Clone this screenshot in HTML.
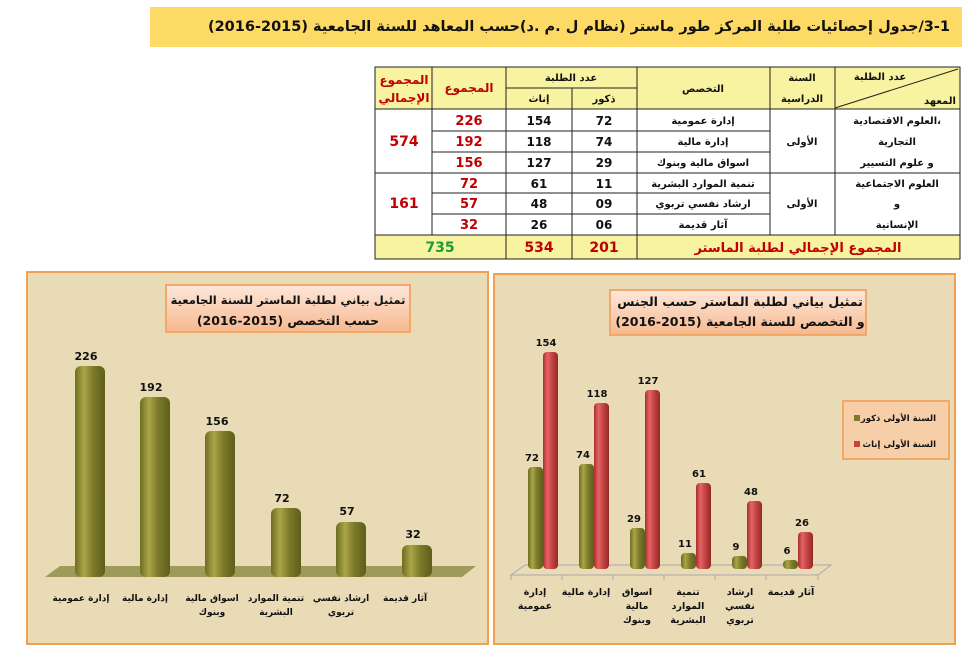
<!DOCTYPE html>
<html><head><meta charset="utf-8"><style>
body{margin:0;background:#fff;width:962px;height:648px;overflow:hidden;position:relative}
svg text{font-family:"DejaVu Sans","Liberation Sans",sans-serif;font-weight:bold}
#t{position:absolute;left:150px;top:7px;width:800px;height:40px;padding-right:8px;text-align:right;direction:rtl;font-family:"DejaVu Sans",sans-serif;font-weight:bold;font-size:14.5px;line-height:40px;color:#111;white-space:nowrap;overflow:hidden}
</style></head><body>
<svg width="962" height="648" viewBox="0 0 962 648" xmlns="http://www.w3.org/2000/svg" style="position:absolute;left:0;top:0">
<defs>
<linearGradient id="og" x1="0" x2="1" y1="0" y2="0"><stop offset="0" stop-color="#6e6e22"/><stop offset=".3" stop-color="#a9a548"/><stop offset=".6" stop-color="#7d7a2a"/><stop offset="1" stop-color="#5e5e1c"/></linearGradient>
<linearGradient id="rg" x1="0" x2="1" y1="0" y2="0"><stop offset="0" stop-color="#a92e2e"/><stop offset=".3" stop-color="#e46464"/><stop offset=".6" stop-color="#c44444"/><stop offset="1" stop-color="#952828"/></linearGradient>
<linearGradient id="tb" x1="0" x2="0" y1="0" y2="1"><stop offset="0" stop-color="#fde8dc"/><stop offset="1" stop-color="#f6b98e"/></linearGradient>
</defs>
<rect x="150" y="7" width="812" height="40" fill="#fdd965"/>

<!-- table -->
<g stroke="#222" stroke-width="1">
<rect x="375" y="67" width="585" height="192" fill="#fff"/>
<rect x="375" y="67" width="585" height="42" fill="#f7f3a0"/>
<rect x="375" y="235" width="585" height="24" fill="#f7f3a0"/>
<line x1="432" y1="67" x2="432" y2="235"/>
<line x1="506" y1="67" x2="506" y2="259"/>
<line x1="572" y1="88" x2="572" y2="259"/>
<line x1="637" y1="67" x2="637" y2="259"/>
<line x1="770" y1="67" x2="770" y2="235"/>
<line x1="835" y1="67" x2="835" y2="235"/>
<line x1="506" y1="88" x2="637" y2="88"/>
<line x1="375" y1="109" x2="960" y2="109"/>
<line x1="432" y1="131" x2="770" y2="131"/>
<line x1="432" y1="152" x2="770" y2="152"/>
<line x1="375" y1="173" x2="960" y2="173"/>
<line x1="432" y1="193" x2="770" y2="193"/>
<line x1="432" y1="214" x2="770" y2="214"/>
<line x1="835" y1="108" x2="958" y2="69"/>
</g>
<g font-size="10" text-anchor="middle" fill="#111">
<text x="404" y="84" fill="#c00000" font-size="12">المجموع</text>
<text x="404" y="102" fill="#c00000" font-size="12">الإجمالي</text>
<text x="469" y="92" fill="#c00000" font-size="12">المجموع</text>
<text x="571" y="81">عدد الطلبة</text>
<text x="539" y="102">إناث</text>
<text x="604" y="102">ذكور</text>
<text x="703" y="92">التخصص</text>
<text x="802" y="81">السنة</text>
<text x="802" y="102">الدراسية</text>
<text x="880" y="80">عدد الطلبة</text>
<text x="940" y="104">المعهد</text>
<text x="703" y="124">إدارة عمومية</text>
<text x="703" y="145">إدارة مالية</text>
<text x="703" y="166">اسواق مالية وبنوك</text>
<text x="703" y="187">تنمية الموارد البشرية</text>
<text x="703" y="207">ارشاد نفسي تربوي</text>
<text x="703" y="228">آثار قديمة</text>
<text x="802" y="145">الأولى</text>
<text x="802" y="207">الأولى</text>
<text x="897" y="124">العلوم الاقتصادية،</text>
<text x="897" y="145">التجارية</text>
<text x="897" y="166">و علوم التسيير</text>
<text x="897" y="187">العلوم الاجتماعية</text>
<text x="897" y="207">و</text>
<text x="897" y="228">الإنسانية</text>
</g>
<g font-size="12" text-anchor="middle" fill="#111" font-family="Liberation Sans">
<text x="539" y="125">154</text><text x="604" y="125">72</text>
<text x="539" y="146">118</text><text x="604" y="146">74</text>
<text x="539" y="167">127</text><text x="604" y="167">29</text>
<text x="539" y="188">61</text><text x="604" y="188">11</text>
<text x="539" y="208">48</text><text x="604" y="208">09</text>
<text x="539" y="229">26</text><text x="604" y="229">06</text>
<g fill="#c00000" font-size="13">
<text x="469" y="125">226</text><text x="469" y="146">192</text><text x="469" y="167">156</text>
<text x="469" y="188">72</text><text x="469" y="208">57</text><text x="469" y="229">32</text>
<text x="404" y="146" font-size="14">574</text><text x="404" y="208" font-size="14">161</text>
<text x="539" y="252" font-size="14">534</text><text x="604" y="252" font-size="14">201</text>
</g>
<text x="440" y="252" font-size="14" fill="#1a9a3a">735</text>
</g>
<text x="798" y="252" font-size="13" text-anchor="middle" fill="#c00000">المجموع الإجمالي لطلبة الماستر</text>

<!-- left panel -->
<rect x="27" y="272" width="461" height="372" fill="#e8dbb6" stroke="#f0a050" stroke-width="2"/>
<rect x="166" y="285" width="244" height="47" fill="url(#tb)" stroke="#f3a868" stroke-width="2"/>
<text x="288" y="304" font-size="11.5" text-anchor="middle" fill="#111">تمثيل بياني لطلبة الماستر للسنة الجامعية</text>
<text x="288" y="325" font-size="12.5" text-anchor="middle" fill="#111">حسب التخصص (2015-2016)</text>
<polygon points="45,577 462,577 476,566 60,566" fill="#9d9a5a"/>
<g fill="url(#og)">
<rect x="75" y="366" width="30" height="211" rx="6"/>
<rect x="140" y="397" width="30" height="180" rx="6"/>
<rect x="205" y="431" width="30" height="146" rx="6"/>
<rect x="271" y="508" width="30" height="69" rx="6"/>
<rect x="336" y="522" width="30" height="55" rx="6"/>
<rect x="402" y="545" width="30" height="32" rx="6"/>
</g>
<g font-size="11" text-anchor="middle" fill="#111" font-family="Liberation Sans">
<text x="86" y="360">226</text><text x="151" y="391">192</text><text x="217" y="425">156</text>
<text x="282" y="502">72</text><text x="347" y="515">57</text><text x="413" y="538">32</text>
</g>
<g font-size="9" text-anchor="middle" fill="#111">
<text x="81" y="601">إدارة عمومية</text>
<text x="145" y="601">إدارة مالية</text>
<text x="212" y="601">اسواق مالية</text><text x="212" y="615">وبنوك</text>
<text x="276" y="601">تنمية الموارد</text><text x="276" y="615">البشرية</text>
<text x="341" y="601">ارشاد نفسي</text><text x="341" y="615">تربوي</text>
<text x="405" y="601">آثار قديمة</text>
</g>

<!-- right panel -->
<rect x="494" y="274" width="461" height="370" fill="#e8dbb6" stroke="#f0a050" stroke-width="2"/>
<rect x="610" y="290" width="256" height="45" fill="url(#tb)" stroke="#f3a868" stroke-width="2"/>
<text x="740" y="306" font-size="12.5" text-anchor="middle" fill="#111">تمثيل بياني لطلبة الماستر حسب الجنس</text>
<text x="740" y="326" font-size="12.5" text-anchor="middle" fill="#111">و التخصص للسنة الجامعية (2015-2016)</text>
<polygon points="511,575 818,575 831,565 525,565" fill="none" stroke="#aaa" stroke-width="1"/>
<g stroke="#aaa"><line x1="511" y1="575" x2="511" y2="580"/><line x1="562" y1="575" x2="562" y2="580"/><line x1="613" y1="575" x2="613" y2="580"/><line x1="664" y1="575" x2="664" y2="580"/><line x1="715" y1="575" x2="715" y2="580"/><line x1="766" y1="575" x2="766" y2="580"/><line x1="818" y1="575" x2="818" y2="580"/></g>
<g fill="url(#og)">
<rect x="528" y="467" width="15" height="102" rx="4"/>
<rect x="579" y="464" width="15" height="105" rx="4"/>
<rect x="630" y="528" width="15" height="41" rx="4"/>
<rect x="681" y="553" width="15" height="16" rx="4"/>
<rect x="732" y="556" width="15" height="13" rx="4"/>
<rect x="783" y="560" width="15" height="9" rx="4"/>
</g>
<g fill="url(#rg)">
<rect x="543" y="352" width="15" height="217" rx="4"/>
<rect x="594" y="403" width="15" height="166" rx="4"/>
<rect x="645" y="390" width="15" height="179" rx="4"/>
<rect x="696" y="483" width="15" height="86" rx="4"/>
<rect x="747" y="501" width="15" height="68" rx="4"/>
<rect x="798" y="532" width="15" height="37" rx="4"/>
</g>
<g font-size="10" text-anchor="middle" fill="#111" font-family="Liberation Sans">
<text x="532" y="461">72</text><text x="546" y="346">154</text>
<text x="583" y="458">74</text><text x="597" y="397">118</text>
<text x="634" y="522">29</text><text x="648" y="384">127</text>
<text x="685" y="547">11</text><text x="699" y="477">61</text>
<text x="736" y="550">9</text><text x="751" y="495">48</text>
<text x="787" y="554">6</text><text x="802" y="526">26</text>
</g>
<g font-size="9.5" text-anchor="middle" fill="#111">
<text x="535" y="595">إدارة</text><text x="535" y="609">عمومية</text>
<text x="586" y="595">إدارة مالية</text>
<text x="637" y="595">اسواق</text><text x="637" y="609">مالية</text><text x="637" y="623">وبنوك</text>
<text x="688" y="595">تنمية</text><text x="688" y="609">الموارد</text><text x="688" y="623">البشرية</text>
<text x="740" y="595">ارشاد</text><text x="740" y="609">نفسي</text><text x="740" y="623">تربوي</text>
<text x="791" y="595">آثار قديمة</text>
</g>
<rect x="843" y="401" width="106" height="58" fill="#f6cfa8" stroke="#f3a868" stroke-width="2"/>
<rect x="854" y="415" width="6" height="6" fill="#7d7a2a"/>
<rect x="854" y="441" width="6" height="6" fill="#c44444"/>
<g font-size="8.5" text-anchor="end" fill="#111">
<text x="936" y="421">السنة الأولى ذكور</text>
<text x="936" y="447">السنة الأولى إناث</text>
</g>
</svg>
<div id="t">3-1/جدول إحصائيات طلبة المركز طور ماستر (نظام ل .م .د)حسب المعاهد للسنة الجامعية (2015-2016)</div>
</body></html>
